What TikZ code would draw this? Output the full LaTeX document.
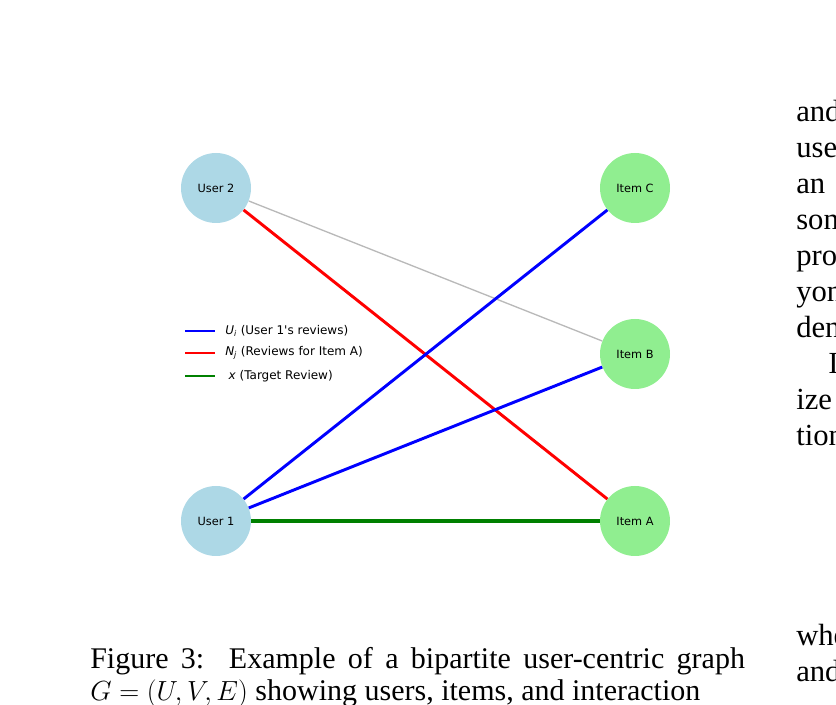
\documentclass[tikz,border=0pt]{standalone}
\usepackage{fontspec}
\setmainfont{Liberation Serif}
\newfontfamily\gsans{DejaVu Sans}
\begin{document}
\begin{tikzpicture}[x=0.75pt,y=-0.75pt,
  vert/.style={circle,minimum size=52.5pt,inner sep=0pt,font=\gsans\fontsize{8.5}{10}\selectfont},
  usr/.style={vert,fill={rgb,255:red,173;green,216;blue,230}},
  itm/.style={vert,fill={rgb,255:red,144;green,238;blue,144}},
  leg/.style={font=\gsans\fontsize{9}{10}\selectfont,anchor=west,inner sep=0pt},
  body/.style={font=\fontsize{23}{27}\selectfont,anchor=base west,inner sep=0pt}]
\useasboundingbox (0,0) rectangle (836,705);
\clip (0,0) rectangle (836,705);
\node[usr] (u2) at (216,188) {User 2};
\node[usr] (u1) at (216,521) {User 1};
\node[itm] (ic) at (635,188) {Item C};
\node[itm] (ib) at (635,354) {Item B};
\node[itm] (ia) at (635,521) {Item A};
\draw[gray!55,line width=1pt] (u2) -- (ib);
\draw[red,line width=2.2pt] (u2) -- (ia);
\draw[blue,line width=2.2pt] (u1) -- (ic);
\draw[blue,line width=2.2pt] (u1) -- (ib);
\draw[green!50!black,line width=2.8pt] (u1) -- (ia);
\coordinate (l1) at (185,331); \coordinate (l2) at (185,353); \coordinate (l3) at (185,376);
\draw[blue,line width=1.1pt] (l1) -- ++(30,0) coordinate (e1);
\draw[red,line width=1.1pt] (l2) -- ++(30,0) coordinate (e2);
\draw[green!50!black,line width=1.6pt] (l3) -- ++(30,0) coordinate (e3);
\node[leg] (t1) at ([xshift=7.5pt]e1) {\textit{U}\textsubscript{\textit{i}} (User 1's reviews)};
\node[leg] (t2) at ([xshift=7.5pt]e2) {\textit{N}\textsubscript{\textit{j}} (Reviews for Item A)};
\node[leg] (t3) at ([xshift=10pt]e3) {\textit{x} (Target Review)};
\foreach \t/\y in {and/122,use/158,an/194,son/230,pro/266,yon/302,den/338,ize/410,tion/446,whe/646,and/682}
  \node[body] at (796,\y) {\t};
\node[body] at (828,374) {I};
\node[anchor=north west,inner sep=0pt,text width=491pt,align=justify,font=\fontsize{22.5}{24}\selectfont] (cap) at (90,647)
 {Figure 3:\ \ Example of a bipartite user-centric graph\linebreak $G=(U,V,E)$ showing users, items, and interaction};
\end{tikzpicture}
\end{document}
